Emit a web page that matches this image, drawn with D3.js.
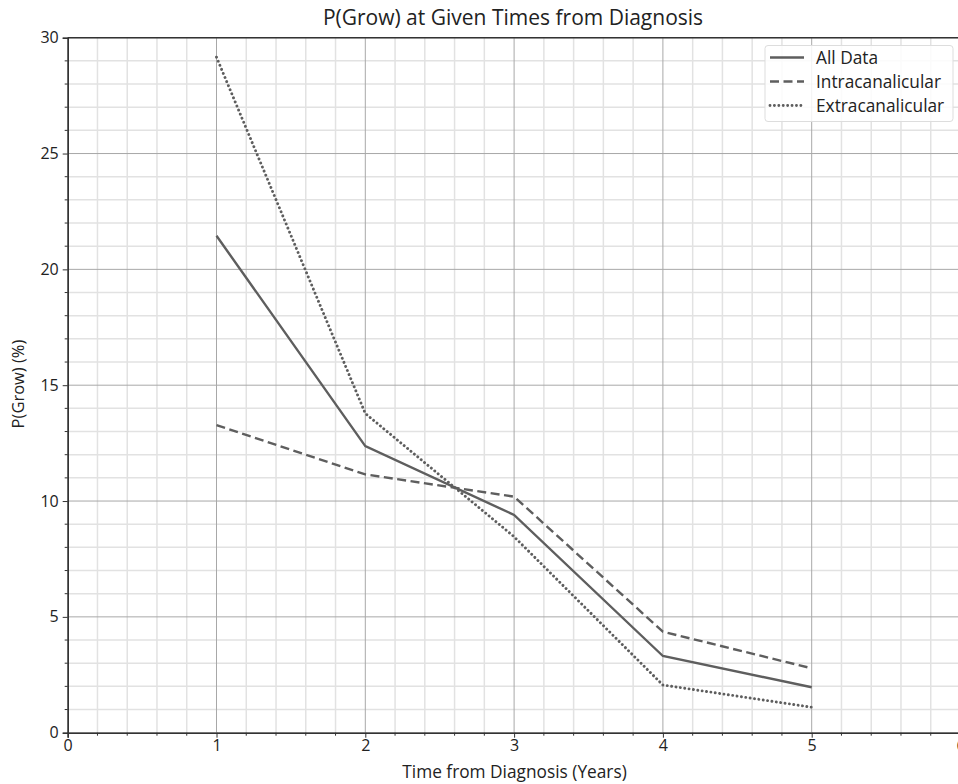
<!DOCTYPE html>
<html>
<head>
<meta charset="utf-8">
<script src="https://cdn.jsdelivr.net/npm/d3@7"></script>
<style>
  body { margin: 0; background: #fff; }
  svg { font-family: "Open Sans", "DejaVu Sans", sans-serif; }
</style>
</head>
<body>
<div id="chart"></div>
<script>
// Data.
var years = [1, 2, 3, 4, 5];
var all_data = [21.45, 12.37, 9.4, 3.31, 1.96];
var intracanalicular = [13.28, 11.15, 10.19, 4.36, 2.78];
var extracanalicular = [29.16, 13.78, 8.46, 2.06, 1.1];
var series_names = ['All Data', 'Intracanalicular', 'Extracanalicular'];
var x_ticks = [0, 1, 2, 3, 4, 5, 6];
var y_ticks = [0, 5, 10, 15, 20, 25, 30];

var width = 958, height = 784;
var margin = { top: 37.7, right: -2.5, bottom: 51.3, left: 67.7 };
var plot_width = width - margin.left - margin.right;
var plot_height = height - margin.top - margin.bottom;

var svg = d3.select('#chart').append('svg')
  .attr('width', width)
  .attr('height', height);
var g = svg.append('g')
  .attr('transform', 'translate(' + margin.left + ',' + margin.top + ')');

var x_scale = d3.scaleLinear().domain([0, 6]).range([0, plot_width]);
var y_scale = d3.scaleLinear().domain([0, 30]).range([plot_height, 0]);

// Minor grid.
var x_minor = d3.range(0, 6.001, 0.2).filter(function(v){ return Math.abs(v - Math.round(v)) > 1e-6; });
var y_minor = d3.range(0, 30.001, 1).filter(function(v){ return v % 5 != 0; });
g.append('g').selectAll('line').data(x_minor).enter().append('line')
  .attr('x1', function(d){ return x_scale(d); }).attr('x2', function(d){ return x_scale(d); })
  .attr('y1', 0).attr('y2', plot_height)
  .attr('stroke', '#e2e2e2').attr('stroke-width', 1.5);
g.append('g').selectAll('line').data(y_minor).enter().append('line')
  .attr('y1', function(d){ return y_scale(d); }).attr('y2', function(d){ return y_scale(d); })
  .attr('x1', 0).attr('x2', plot_width)
  .attr('stroke', '#e2e2e2').attr('stroke-width', 1.5);

// Major grid.
g.append('g').selectAll('line').data(x_ticks).enter().append('line')
  .attr('x1', function(d){ return x_scale(d); }).attr('x2', function(d){ return x_scale(d); })
  .attr('y1', 0).attr('y2', plot_height)
  .attr('stroke', '#a8a8a8').attr('stroke-width', 1);
g.append('g').selectAll('line').data(y_ticks).enter().append('line')
  .attr('y1', function(d){ return y_scale(d); }).attr('y2', function(d){ return y_scale(d); })
  .attr('x1', 0).attr('x2', plot_width)
  .attr('stroke', '#a8a8a8').attr('stroke-width', 1);

// Lines.
var styles = [
  { values: all_data, dash: null, cap: 'butt', w: 2.4 },
  { values: intracanalicular, dash: '9,4.5', cap: 'butt', w: 2.4 },
  { values: extracanalicular, dash: '0.01,4.4', cap: 'round', w: 2.9 }
];
var line = d3.line()
  .x(function(d){ return x_scale(d.x); })
  .y(function(d){ return y_scale(d.y); });
styles.forEach(function(s){
  g.append('path')
    .datum(years.map(function(yr, i){ return { x: yr, y: s.values[i] }; }))
    .attr('d', line)
    .attr('fill', 'none')
    .attr('stroke', '#5e5e5e')
    .attr('stroke-width', s.w)
    .attr('stroke-dasharray', s.dash)
    .attr('stroke-linecap', s.cap);
});

// Axes.
var tick_style = 'font-size:16px; fill:#222; font-family:"Open Sans", sans-serif';
var x_axis = g.append('g')
  .attr('transform', 'translate(0,' + plot_height + ')')
  .call(d3.axisBottom(x_scale).tickValues(x_ticks).tickFormat(d3.format('d')).tickSize(5).tickPadding(2));
x_axis.append('g').selectAll('line').data(x_minor).enter().append('line')
  .attr('x1', function(d){ return x_scale(d); }).attr('x2', function(d){ return x_scale(d); })
  .attr('y1', 0).attr('y2', 3).attr('stroke', '#333');
var y_axis = g.append('g')
  .call(d3.axisLeft(y_scale).tickValues(y_ticks).tickSize(5).tickPadding(4));
y_axis.append('g').selectAll('line').data(y_minor).enter().append('line')
  .attr('y1', function(d){ return y_scale(d); }).attr('y2', function(d){ return y_scale(d); })
  .attr('x1', 0).attr('x2', -3).attr('stroke', '#333');
[x_axis, y_axis].forEach(function(a){
  a.selectAll('.domain').attr('stroke', '#333').attr('stroke-width', 1.6);
  a.selectAll('.tick line').attr('stroke', '#333');
  a.selectAll('.tick text').attr('style', tick_style);
});
// Top spine.
g.append('line').attr('x1', 0).attr('x2', plot_width).attr('y1', 0).attr('y2', 0)
  .attr('stroke', '#333').attr('stroke-width', 1.6);

// Title and axis labels.
svg.append('text')
  .attr('x', 513).attr('y', 25)
  .attr('text-anchor', 'middle')
  .attr('style', 'font-size:21px; fill:#222')
  .text('P(Grow) at Given Times from Diagnosis');
svg.append('text')
  .attr('x', 514.5).attr('y', 778)
  .attr('text-anchor', 'middle')
  .attr('style', 'font-size:17.3px; fill:#222')
  .text('Time from Diagnosis (Years)');
svg.append('text')
  .attr('transform', 'translate(24,' + 384 + ') rotate(-90)')
  .attr('text-anchor', 'middle')
  .attr('style', 'font-size:16.5px; fill:#222')
  .text('P(Grow) (%)');

// Legend.
var legend = svg.append('g').attr('transform', 'translate(765,45.5)');
legend.append('rect')
  .attr('width', 188).attr('height', 76).attr('rx', 3)
  .attr('fill', 'rgba(255,255,255,0.85)').attr('stroke', '#ddd');
series_names.forEach(function(name, i){
  var yy = 12 + i * 24;
  legend.append('line')
    .attr('x1', 5).attr('x2', 39).attr('y1', yy).attr('y2', yy)
    .attr('stroke', '#5e5e5e').attr('stroke-width', styles[i].w)
    .attr('stroke-dasharray', styles[i].dash)
    .attr('stroke-linecap', styles[i].cap);
  legend.append('text')
    .attr('x', 51).attr('y', yy + 6)
    .attr('style', 'font-size:17.3px; fill:#222')
    .text(name);
});
</script>
</body>
</html>
